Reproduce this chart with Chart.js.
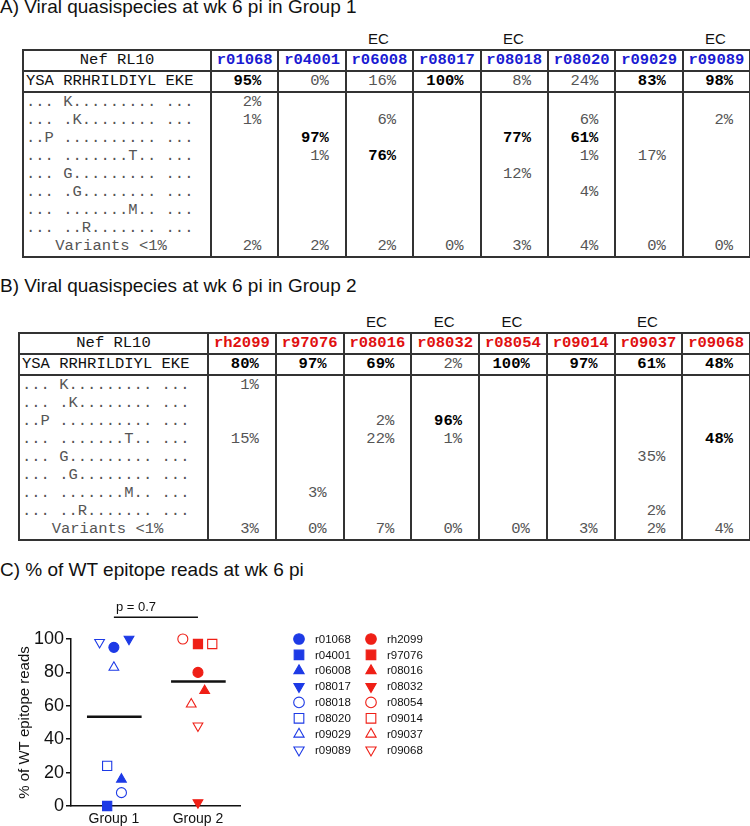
<!DOCTYPE html>
<html>
<head>
<meta charset="utf-8">
<script src="https://cdn.jsdelivr.net/npm/chart.js@4.4.1/dist/chart.umd.min.js"></script>
<style>
    body { margin: 0; background: #fff; }
    #page { position: relative; width: 750px; height: 826px; overflow: hidden; }
    .title { position: absolute; left: 0; font-family: "Liberation Sans", Arial, sans-serif; font-size: 19px; line-height: 20px; white-space: nowrap; color: #111; }
    .ec { position: absolute; width: 60px; text-align: center; font-family: "Liberation Sans", Arial, sans-serif; font-size: 15px; line-height: 15px; color: #111; }
    table.q { position: absolute; border-collapse: collapse; table-layout: fixed; font-family: "Liberation Mono", "Courier New", monospace; font-size: 15.5px; border: 2px solid #333; }
    table.q td { padding: 0 16px 0 0; border-left: 2px solid #333; border-right: 2px solid #333; white-space: pre; height: 18px; line-height: 18px; text-align: right; color: #555; overflow: hidden; }
    table.q td.seq { text-align: left; padding: 0 0 0 2px; }
    table.q tr.head td, table.q tr.wt td { height: 19px; line-height: 19px; border-bottom: 2px solid #333; }
    table.q tr.head td { text-align: center; padding: 0; font-weight: bold; }
    table.q tr.head td.seq { font-weight: normal; color: #111; text-align: center; }
    table.q tr.wt td.seq { color: #111; }
    table.q tr.last td { height: 19px; vertical-align: top; }
    table.q tr.last td.seq { text-align: center; padding-right: 14px; }
    table.q td.big { font-weight: bold; color: #000; }
    #chartBox { position: absolute; left: 0; top: 590px; }
</style>
</head>
<body>
<div id="page">
    <div class="title" style="top:-2.6px">A) Viral quasispecies at wk 6 pi in Group 1</div>
    <div class="title" style="top:276.1px">B) Viral quasispecies at wk 6 pi in Group 2</div>
    <div class="title" style="top:560.4px">C) % of WT epitope reads at wk 6 pi</div>
    <div id="chartBox"><canvas id="wtChart" width="750" height="236"></canvas></div>
</div>

<script>
// 에피토프 서열
const epitopeName = 'Nef RL10';
const wtSeq = 'YSA RRHRILDIYL EKE';
const variantSeqs = [
    '... K......... ...',
    '... .K........ ...',
    '..P .......... ...',
    '... .......T.. ...',
    '... G......... ...',
    '... .G........ ...',
    '... .......M.. ...',
    '... ..R....... ...'
];
const minorLabel = 'Variants <1%';

// Group 1
const group1Animals = ['r01068', 'r04001', 'r06008', 'r08017', 'r08018', 'r08020', 'r09029', 'r09089'];
const group1EC = ['r06008', 'r08018', 'r09089'];
const group1Wt = [95, 0, 16, 100, 8, 24, 83, 98];
const group1Variants = [
    [2, null, null, null, null, null, null, null],
    [1, null, 6, null, null, 6, null, 2],
    [null, 97, null, null, 77, 61, null, null],
    [null, 1, 76, null, null, 1, 17, null],
    [null, null, null, null, 12, null, null, null],
    [null, null, null, null, null, 4, null, null],
    [null, null, null, null, null, null, null, null],
    [null, null, null, null, null, null, null, null]
];
const group1Minor = [2, 2, 2, 0, 3, 4, 0, 0];
const group1Jitter = [0, -0.08, 0.09, 0.18, 0.09, -0.08, 0, -0.17];

// Group 2
const group2Animals = ['rh2099', 'r97076', 'r08016', 'r08032', 'r08054', 'r09014', 'r09037', 'r09068'];
const group2EC = ['r08016', 'r08032', 'r08054', 'r09037'];
const group2Wt = [80, 97, 69, 2, 100, 97, 61, 48];
const group2Variants = [
    [1, null, null, null, null, null, null, null],
    [null, null, null, null, null, null, null, null],
    [null, null, 2, 96, null, null, null, null],
    [15, null, 22, 1, null, null, null, 48],
    [null, null, null, null, null, null, 35, null],
    [null, null, null, null, null, null, null, null],
    [null, 3, null, null, null, null, null, null],
    [null, null, null, null, null, null, 2, null]
];
const group2Minor = [3, 0, 7, 0, 0, 3, 2, 4];
const group2Jitter = [0, 0, 0.08, 0, -0.18, 0.17, -0.08, 0];

const groupLabels = ['Group 1', 'Group 2'];
const pValue = 0.7;

// 마커 모양 (동물 순서대로)
const markerStyles = ['circle', 'rect', 'triangle', 'triangle', 'circle', 'rect', 'triangle', 'triangle'];
const markerRotation = [0, 0, 0, 180, 0, 0, 0, 180];
const markerFilled = [true, true, true, true, false, false, false, false];
const markerRadius = [5, 6.5, 5.6, 5.6, 5, 6.5, 5.6, 5.6];

const BLUE = '#1d3ae6';
const RED = '#ef1f16';
const ID_BLUE = '#1a1ad2';
const ID_RED = '#e01010';

// 표 만들기
function buildTable(left, top, firstWidth, colWidth, animals, idColor, wt, variants, minor, ecList) {
    const page = document.getElementById('page');
    let html = '<colgroup><col style="width:' + firstWidth + 'px">';
    animals.forEach(() => { html += '<col style="width:' + colWidth + 'px">'; });
    html += '</colgroup>';

    html += '<tr class="head"><td class="seq">' + epitopeName + '</td>';
    animals.forEach(id => { html += '<td style="color:' + idColor + '">' + id + '</td>'; });
    html += '</tr>';

    html += '<tr class="wt"><td class="seq">' + wtSeq + '</td>';
    wt.forEach(v => { html += cell(v); });
    html += '</tr>';

    variantSeqs.forEach((seq, r) => {
        html += '<tr><td class="seq">' + seq + '</td>';
        variants[r].forEach(v => { html += cell(v); });
        html += '</tr>';
    });

    html += '<tr class="last"><td class="seq">' + minorLabel.replace('<', '&lt;') + '</td>';
    minor.forEach(v => { html += cell(v); });
    html += '</tr>';

    const table = document.createElement('table');
    table.className = 'q';
    table.style.left = left + 'px';
    table.style.top = top + 'px';
    table.style.width = (firstWidth + colWidth * animals.length) + 'px';
    table.innerHTML = html;
    page.appendChild(table);

    animals.forEach((id, i) => {
        if (!ecList.includes(id)) return;
        const ec = document.createElement('div');
        ec.className = 'ec';
        ec.textContent = 'EC';
        ec.style.left = (left + firstWidth + colWidth * (i + 0.5) - 30) + 'px';
        ec.style.top = (top - 17.7) + 'px';
        page.appendChild(ec);
    });
}

function cell(v) {
    if (v === null) return '<td></td>';
    return '<td class="' + (v >= 40 ? 'big' : '') + '">' + v + '%</td>';
}

buildTable(22, 49, 188, 67.4, group1Animals, ID_BLUE, group1Wt, group1Variants, group1Minor, group1EC);
buildTable(18, 332, 189, 67.75, group2Animals, ID_RED, group2Wt, group2Variants, group2Minor, group2EC);

// 중앙값
function median(values) {
    const s = values.slice().sort((a, b) => a - b);
    const m = Math.floor(s.length / 2);
    return s.length % 2 ? s[m] : (s[m - 1] + s[m]) / 2;
}

function groupDataset(values, jitter, center, color) {
    return {
        type: 'scatter',
        data: values.map((v, i) => ({ x: center + jitter[i], y: v })),
        pointStyle: markerStyles,
        rotation: markerRotation,
        pointRotation: markerRotation,
        pointRadius: markerRadius,
        pointHoverRadius: markerRadius,
        pointBackgroundColor: markerFilled.map(f => f ? color : '#ffffff'),
        pointBorderColor: color,
        pointBorderWidth: 1.1,
        clip: false
    };
}

function medianDataset(values, center) {
    const m = median(values);
    return {
        type: 'line',
        data: [{ x: center - 0.32, y: m }, { x: center + 0.33, y: m }],
        borderColor: '#111',
        borderWidth: 2.5,
        pointRadius: 0,
        clip: false
    };
}

const bracketLevel = 113;

const extrasPlugin = {
    id: 'extras',
    afterDatasetsDraw(chart) {
        const { ctx, chartArea, scales } = chart;
        const helpers = Chart.helpers;
        ctx.save();

        // p 값
        ctx.font = '13px "Liberation Sans", Arial, sans-serif';
        ctx.fillStyle = '#111';
        ctx.textBaseline = 'middle';
        ctx.textAlign = 'left';
        ctx.fillText('p = ' + pValue, scales.x.getPixelForValue(1) + 2, scales.y.getPixelForValue(bracketLevel) - 10);

        // 범례 (2열)
        const cols = [
            { animals: group1Animals, color: BLUE, x: chartArea.right + 59 },
            { animals: group2Animals, color: RED, x: chartArea.right + 131 }
        ];
        ctx.font = '11.5px "Liberation Sans", Arial, sans-serif';
        cols.forEach(col => {
            col.animals.forEach((id, i) => {
                const y = chartArea.top + i * 15.86;
                ctx.fillStyle = markerFilled[i] ? col.color : '#ffffff';
                ctx.strokeStyle = col.color;
                ctx.lineWidth = 1.1;
                helpers.drawPoint(ctx, {
                    pointStyle: markerStyles[i],
                    rotation: markerRotation[i],
                    radius: markerRadius[i] + 0.3,
                    borderWidth: 1.1
                }, col.x, y);
                ctx.fillStyle = '#111';
                ctx.fillText(id, col.x + 16, y + 0.5);
            });
        });
        ctx.restore();
    }
};

Chart.defaults.font.family = '"Liberation Sans", Arial, sans-serif';
Chart.defaults.color = '#111';

new Chart(document.getElementById('wtChart'), {
    type: 'scatter',
    data: {
        datasets: [
            groupDataset(group1Wt, group1Jitter, 1, BLUE),
            groupDataset(group2Wt, group2Jitter, 2, RED),
            medianDataset(group1Wt, 1),
            medianDataset(group2Wt, 2),
            {
                type: 'line',
                data: [{ x: 1, y: bracketLevel }, { x: 2, y: bracketLevel }],
                borderColor: '#111',
                borderWidth: 1.5,
                pointRadius: 0,
                clip: false
            }
        ]
    },
    options: {
        responsive: false,
        animation: false,
        layout: { padding: { left: 0, top: 49, right: 510, bottom: 0 } },
        plugins: { legend: { display: false }, tooltip: { enabled: false } },
        scales: {
            x: {
                type: 'linear',
                min: 0.49,
                max: 2.5,
                afterBuildTicks: scale => { scale.ticks = [{ value: 1 }, { value: 2 }]; },
                afterFit: scale => { scale.height = 20; },
                ticks: {
                    callback: v => groupLabels[v - 1],
                    font: { size: 14 },
                    color: '#111',
                    padding: 5,
                    autoSkip: false,
                    maxRotation: 0
                },
                grid: { display: false, drawTicks: false },
                border: { color: '#111', width: 1.5 }
            },
            y: {
                min: 0,
                max: 100,
                afterFit: scale => { scale.width = 71; },
                ticks: { stepSize: 20, font: { size: 18 }, color: '#111', padding: 2 },
                grid: { drawOnChartArea: false, drawTicks: true, tickLength: 5, color: '#111', lineWidth: 1.5 },
                border: { color: '#111', width: 1.5 },
                title: {
                    display: true,
                    text: '% of WT epitope reads',
                    font: { size: 15 },
                    color: '#111',
                    padding: { top: 16, bottom: 0 }
                }
            }
        }
    },
    plugins: [extrasPlugin]
});
</script>
</body>
</html>
